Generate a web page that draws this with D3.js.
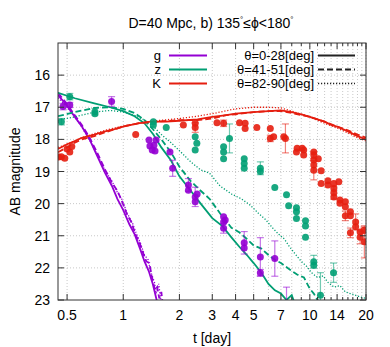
<meta charset="utf-8">
<script src="https://d3js.org/d3.v7.min.js"></script>
<style>
  body { margin: 0; background: #fff; }
  text { font-family: "Liberation Sans", Arial, sans-serif; font-size: 14px; fill: #000; }
  .legend text { font-size: 13px; }
</style>
<div id="chart"></div>
<script>

// ---- data (t in days, AB magnitude) ----
var bands = ["g", "z", "K"];
var bandColors = ["#9400d3", "#009e73", "#e51e10"];
var thetaLabels = ["θ=0-28[deg]", "θ=41-51[deg]", "θ=82-90[deg]"];
var xTickLabels = [0.5, 1, 2, 3, 4, 5, 7, 10, 14, 20];
var xMinorTicks = [6, 8, 9, 11, 12, 13, 15, 16, 17, 18, 19];
var yTickLabels = [16, 17, 18, 19, 20, 21, 22, 23];

var gSolid = [[0.447,16.62],[0.5,16.95],[0.55,17.3],[0.6,17.6],[0.66,18.0],[0.73,18.55],[0.8,19.05],[0.87,19.45],[0.93,19.85],[1.0,20.2],[1.08,20.65],[1.15,20.95],[1.23,21.4],[1.3,21.8],[1.37,22.1],[1.44,22.5],[1.51,23.0],[1.55,23.3]];
var gDashed = [[0.447,16.55],[0.5,16.9],[0.55,17.25],[0.6,17.55],[0.66,17.95],[0.73,18.45],[0.8,18.95],[0.87,19.35],[0.93,19.6],[0.98,19.9],[1.05,20.35],[1.1,20.55],[1.17,21.0],[1.22,21.2],[1.28,21.55],[1.33,21.8],[1.38,21.85],[1.42,22.25],[1.48,22.7],[1.52,22.6],[1.56,22.95],[1.6,22.75],[1.64,23.3]];
var gDotted = [[0.447,16.7],[0.5,17.0],[0.55,17.3],[0.6,17.62],[0.66,18.02],[0.73,18.5],[0.8,18.98],[0.87,19.3],[0.93,19.65],[0.98,19.85],[1.05,20.3],[1.12,20.6],[1.17,20.9],[1.24,21.25],[1.3,21.6],[1.36,21.75],[1.4,22.1],[1.47,22.45],[1.5,22.8],[1.55,22.5],[1.58,22.9],[1.63,23.3]];

var zSolid = [[0.447,16.55],[0.55,16.72],[0.7,16.88],[0.85,17.0],[1.0,17.12],[1.15,17.28],[1.3,17.5],[1.45,17.85],[1.6,18.25],[1.8,18.65],[2.0,19.15],[2.3,19.6],[2.6,20.0],[3.0,20.45],[3.4,20.7],[3.8,21.05],[4.2,21.35],[4.6,21.6],[5.0,21.85],[5.5,22.15],[6.0,22.5],[6.5,22.7],[7.0,22.8],[7.5,23.0],[8.0,22.85],[8.4,23.2]];
var zDashed = [[0.447,17.28],[0.55,17.15],[0.7,17.02],[0.85,17.0],[1.0,17.05],[1.15,17.18],[1.3,17.4],[1.45,17.7],[1.6,18.0],[1.8,18.4],[2.0,18.85],[2.3,19.3],[2.6,19.6],[2.9,19.85],[3.3,20.3],[3.8,20.75],[4.2,20.9],[4.6,21.1],[5.0,21.3],[5.5,21.4],[6.0,21.6],[6.5,21.75],[7.0,21.85],[7.8,22.05],[8.5,22.2],[9.3,22.3],[10.0,22.65],[10.5,22.8],[11.0,23.0],[11.3,23.2]];
var zDotted = [[0.447,17.4],[0.55,17.3],[0.7,17.15],[0.85,17.1],[1.0,17.15],[1.15,17.25],[1.3,17.4],[1.45,17.6],[1.6,17.85],[1.8,18.1],[2.0,18.35],[2.3,18.7],[2.6,18.95],[2.9,19.05],[3.3,19.45],[3.8,19.7],[4.3,19.85],[4.8,20.05],[5.3,20.3],[5.8,20.5],[6.3,20.75],[6.8,20.95],[7.3,21.1],[7.8,21.35],[8.3,21.55],[9.0,21.8],[9.6,21.95],[10.2,22.15],[11.0,22.3],[11.8,22.25],[12.5,22.45],[13.5,22.6],[14.5,22.55],[15.5,22.75],[16.5,22.8],[17.5,22.85],[18.5,22.9],[20,22.95]];

var kSolid = [[0.447,18.3],[0.5,18.15],[0.55,18.05],[0.6,17.95],[0.7,17.85],[0.8,17.75],[0.9,17.68],[1.0,17.6],[1.2,17.5],[1.4,17.45],[1.7,17.45],[2.0,17.42],[2.5,17.38],[3.0,17.3],[3.5,17.25],[4.0,17.2],[5.0,17.15],[6.0,17.12],[7.0,17.1],[8.0,17.15],[9.0,17.22],[10.0,17.3],[11.0,17.38],[12.0,17.45],[13.0,17.55],[14.0,17.6],[16.0,17.75],[18.0,17.9],[20.0,18.0]];
var kDashed = [[0.447,18.4],[0.5,18.25],[0.55,18.1],[0.6,18.0],[0.7,17.9],[0.8,17.78],[1.0,17.6],[1.2,17.5],[1.5,17.45],[2.0,17.4],[2.5,17.4],[3.0,17.35],[3.5,17.25],[4.0,17.22],[5.0,17.15],[6.0,17.12],[7.0,17.12],[8.0,17.18],[10.0,17.3],[12.0,17.45],[14.0,17.6],[16.0,17.72],[18.0,17.85],[20.0,17.95]];
var kDotted = [[0.447,18.25],[0.5,18.15],[0.6,17.95],[0.7,17.82],[0.8,17.72],[1.0,17.58],[1.2,17.5],[1.5,17.42],[2.0,17.35],[2.5,17.28],[3.0,17.2],[3.5,17.12],[4.0,17.05],[5.0,17.0],[6.0,17.0],[7.0,17.02],[8.0,17.12],[10.0,17.3],[12.0,17.5],[14.0,17.65],[16.0,17.8],[18.0,17.95],[20.0,18.05]];

// observed points: [t, mag, error]
var gPoints = [[0.476,16.98,0.1],[0.517,16.93,0.08],[0.866,16.82,0.15],[1.375,18.02,0],[1.39,18.21,0],[1.43,18.33,0],[1.46,18.18,0],[1.5,18.02,0],[1.48,18.36,0],[1.78,18.39,0],[1.84,18.9,0.25],[2.235,19.42,0.2],[2.235,19.58,0],[2.43,19.79,0.3],[2.43,19.94,0],[2.49,19.7,0],[3.45,20.41,0],[3.52,20.51,0],[3.45,20.57,0],[3.45,20.77,0.15],[4.45,21.22,0.35],[4.45,21.38,0],[5.43,21.66,0.6],[5.43,22.15,0.1],[6.49,21.71,0.55],[7.5,23.3,0.7]];
var zPoints = [[0.466,17.45,0.1],[0.517,16.67,0.1],[0.705,17.14,0.1],[0.705,17.2,0],[1.45,17.45,0],[1.45,17.55,0],[1.7,17.63,0],[2.43,17.92,0],[2.48,18.12,0],[2.43,18.33,0],[3.71,17.97,0.45],[3.45,18.23,0],[3.45,18.39,0],[3.45,18.6,0],[4.45,18.6,0],[4.45,18.75,0],[4.45,18.9,0],[5.43,18.9,0.2],[5.43,19.0,0],[6.49,19.5,0],[7.5,19.72,0],[7.7,20.07,0],[8.48,20.13,0],[8.48,20.25,0],[8.48,20.46,0],[9.48,20.53,0],[9.48,20.7,0],[9.48,21.05,0],[10.5,21.81,0.2],[10.5,21.92,0],[13.4,22.15,0.3],[11.4,22.85,0.7]];
var kPoints = [[0.466,18.54,0],[0.486,18.59,0],[0.517,18.39,0],[0.53,18.22,0],[0.5,18.3,0],[0.45,18.55,0],[1.166,17.85,0],[2.1,17.55,0],[2.43,17.5,0],[2.43,17.63,0.15],[3.18,17.48,0],[3.45,17.5,0.1],[4.2,17.48,0],[4.5,17.5,0],[4.5,17.66,0],[5.2,17.63,0],[6.14,17.66,0],[6.14,17.97,0.1],[6.4,17.92,0],[7.25,17.92,0],[7.4,17.97,0.45],[8.55,18.28,0],[9.1,18.28,0],[9.27,18.33,0],[9.27,18.49,0],[8.48,18.39,0],[10.5,18.39,0],[10.5,18.49,0.1],[11.1,18.6,0],[10.5,18.64,0],[10.5,18.8,0],[10.5,18.96,0.3],[11.5,18.98,0],[11.5,19.37,0],[12.5,19.29,0],[12.5,19.42,0],[13.45,19.37,0],[13.45,19.53,0],[13.45,19.66,0.2],[13.45,19.79,0],[14.3,19.32,0],[14.5,19.89,0],[14.5,19.99,0],[15.5,19.94,0],[15.5,20.1,0],[15.5,20.38,0.15],[16.5,20.25,0],[16.5,20.38,0],[16.5,20.91,0.15],[17.6,20.57,0.25],[17.6,20.72,0],[18.6,20.88,0],[18.6,21.05,0.2],[19.5,20.83,0.1],[19.6,21.19,0.5]];

var curves = [[gSolid, gDashed, gDotted], [zSolid, zDashed, zDotted], [kSolid, kDashed, kDotted]];
var points = [gPoints, zPoints, kPoints];
var dashes = [null, "6,3", "1.2,1.8"];
var widths = [1.8, 1.8, 1.3];

// ---- layout ----
var W = 390, H = 347;
var plot = {left: 58, right: 366, top: 43, bottom: 300};

var svg = d3.select("#chart").append("svg")
    .attr("width", W).attr("height", H);

var x = d3.scaleLog().domain([0.447, 20]).range([plot.left, plot.right]);
var y = d3.scaleLinear().domain([15, 23]).range([plot.top, plot.bottom]);

svg.append("clipPath").attr("id", "clip")
  .append("rect")
    .attr("x", plot.left).attr("y", plot.top)
    .attr("width", plot.right - plot.left).attr("height", plot.bottom - plot.top);

// grid
var grid = svg.append("g").attr("stroke", "#c8c8c8").attr("stroke-width", 1).attr("stroke-dasharray", "1,2");
xTickLabels.concat(xMinorTicks).forEach(function(t) {
  grid.append("line").attr("x1", x(t)).attr("x2", x(t)).attr("y1", plot.top).attr("y2", plot.bottom);
});
yTickLabels.slice(0, -1).forEach(function(m) {
  grid.append("line").attr("x1", plot.left).attr("x2", plot.right).attr("y1", y(m)).attr("y2", y(m));
});

var body = svg.append("g").attr("clip-path", "url(#clip)");

// model curves
var line = d3.line().x(function(d) { return x(d[0]); }).y(function(d) { return y(d[1]); });
curves.forEach(function(set, b) {
  set.forEach(function(c, k) {
    body.append("path")
      .datum(c)
      .attr("d", line)
      .attr("fill", "none")
      .attr("stroke", bandColors[b])
      .attr("stroke-width", widths[k])
      .attr("stroke-dasharray", dashes[k]);
  });
});

// observed points with error bars
points.forEach(function(pts, b) {
  var g = body.append("g");
  var eb = pts.filter(function(d) { return d[2] > 0; });
  g.selectAll("line.err").data(eb).enter().append("line")
    .attr("x1", function(d) { return x(d[0]); }).attr("x2", function(d) { return x(d[0]); })
    .attr("y1", function(d) { return y(d[1] - d[2]); }).attr("y2", function(d) { return y(d[1] + d[2]); })
    .attr("stroke", bandColors[b]).attr("stroke-opacity", 0.55).attr("stroke-width", 1.2);
  [-1, 1].forEach(function(s) {
    g.selectAll(null).data(eb).enter().append("line")
      .attr("x1", function(d) { return x(d[0]) - 3.5; }).attr("x2", function(d) { return x(d[0]) + 3.5; })
      .attr("y1", function(d) { return y(d[1] + s * d[2]); }).attr("y2", function(d) { return y(d[1] + s * d[2]); })
      .attr("stroke", bandColors[b]).attr("stroke-opacity", 0.55).attr("stroke-width", 1.2);
  });
  g.selectAll("circle").data(pts).enter().append("circle")
    .attr("cx", function(d) { return x(d[0]); })
    .attr("cy", function(d) { return y(d[1]); })
    .attr("r", 3.5)
    .attr("fill", bandColors[b])
    .attr("fill-opacity", 0.9);
});

// frame and ticks
var frame = svg.append("g").attr("stroke", "#333").attr("stroke-width", 1);
frame.append("rect")
  .attr("x", plot.left).attr("y", plot.top)
  .attr("width", plot.right - plot.left).attr("height", plot.bottom - plot.top)
  .attr("fill", "none");
xTickLabels.forEach(function(t) {
  frame.append("line").attr("x1", x(t)).attr("x2", x(t)).attr("y1", plot.bottom).attr("y2", plot.bottom - 6);
  frame.append("line").attr("x1", x(t)).attr("x2", x(t)).attr("y1", plot.top).attr("y2", plot.top + 6);
});
xMinorTicks.forEach(function(t) {
  frame.append("line").attr("x1", x(t)).attr("x2", x(t)).attr("y1", plot.bottom).attr("y2", plot.bottom - 3);
  frame.append("line").attr("x1", x(t)).attr("x2", x(t)).attr("y1", plot.top).attr("y2", plot.top + 3);
});
yTickLabels.forEach(function(m) {
  frame.append("line").attr("x1", plot.left).attr("x2", plot.left + 6).attr("y1", y(m)).attr("y2", y(m));
  frame.append("line").attr("x1", plot.right).attr("x2", plot.right - 6).attr("y1", y(m)).attr("y2", y(m));
});

// tick labels
svg.append("g").selectAll("text").data(xTickLabels).enter().append("text")
  .attr("x", function(d) { return x(d); })
  .attr("y", 320)
  .attr("text-anchor", "middle")
  .text(function(d) { return d; });
svg.append("g").selectAll("text").data(yTickLabels).enter().append("text")
  .attr("x", 50)
  .attr("y", function(d) { return y(d) + 5; })
  .attr("text-anchor", "end")
  .text(function(d) { return d; });

// axis titles
svg.append("text")
  .attr("x", (plot.left + plot.right) / 2).attr("y", 343)
  .attr("text-anchor", "middle")
  .text("t [day]");
svg.append("text")
  .attr("transform", "translate(20," + ((plot.top + plot.bottom) / 2) + ") rotate(-90)")
  .attr("text-anchor", "middle")
  .text("AB magnitude");

// title
var title = svg.append("text").attr("x", 211).attr("y", 28).attr("text-anchor", "middle");
title.append("tspan").text("D=40 Mpc, b) 135");
title.append("tspan").attr("dy", -6).style("font-size", "8px").text("°");
title.append("tspan").attr("dy", 6).text("≤ϕ<180");
title.append("tspan").attr("dy", -6).style("font-size", "8px").text("°");

// legend
var legend = svg.append("g").attr("class", "legend");
var rowY = [55.5, 69.5, 83.5];
bands.forEach(function(b, i) {
  legend.append("text").attr("x", 161).attr("y", rowY[i] + 4.5).attr("text-anchor", "end").text(b);
  legend.append("line").attr("x1", 169).attr("x2", 207).attr("y1", rowY[i]).attr("y2", rowY[i])
    .attr("stroke", bandColors[i]).attr("stroke-width", 1.8);
});
thetaLabels.forEach(function(l, i) {
  legend.append("text").attr("x", 314).attr("y", rowY[i] + 4.5).attr("text-anchor", "end").text(l);
  legend.append("line").attr("x1", 318).attr("x2", 355).attr("y1", rowY[i]).attr("y2", rowY[i])
    .attr("stroke", "#222").attr("stroke-width", widths[i]).attr("stroke-dasharray", dashes[i]);
});

</script>
